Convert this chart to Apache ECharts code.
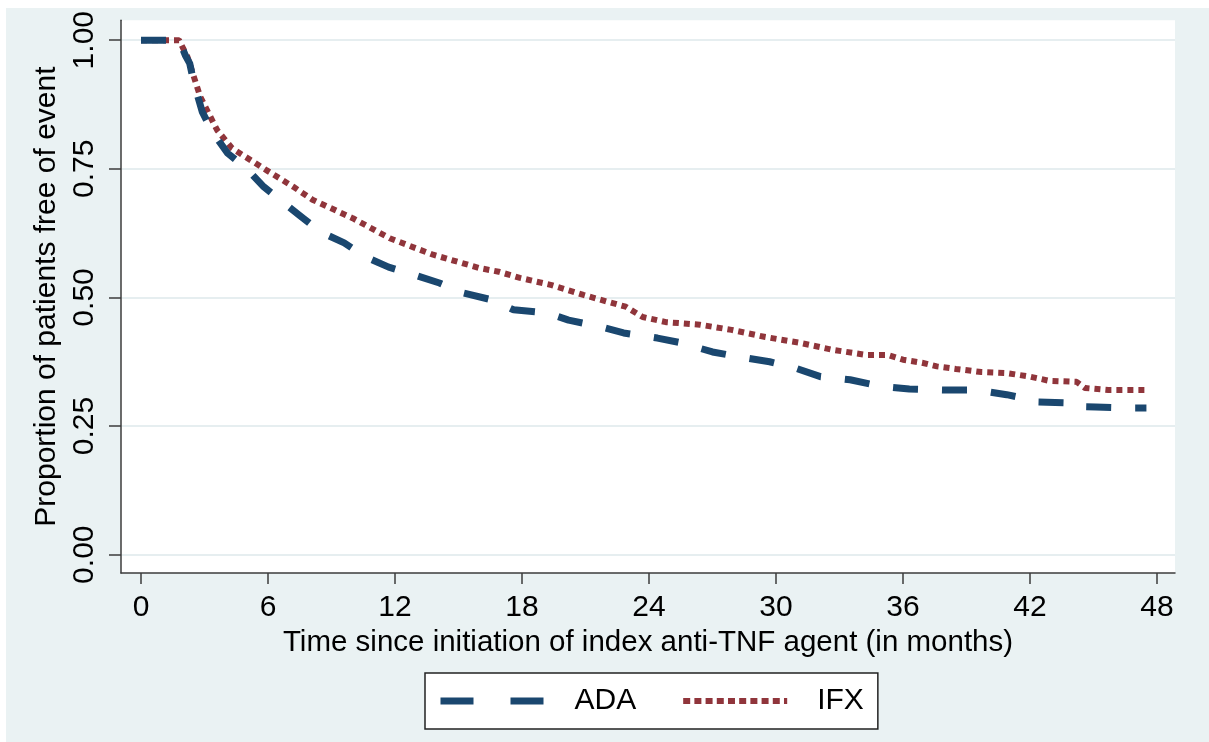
<!DOCTYPE html>
<html>
<head>
<meta charset="utf-8">
<script src="https://cdn.jsdelivr.net/npm/echarts@6/dist/echarts.min.js"></script>
<style>
  html, body { margin: 0; padding: 0; background: #fff; }
  #chart { position: absolute; left: 6px; top: 8px; width: 1203px; height: 734px; }
</style>
</head>
<body>
<div id="chart"></div>
<script>
// KM curves (months, proportion free of event)
var adaTime = [0, 1.8, 2.1, 2.3, 2.5, 2.9, 3.4, 4.1, 5.0, 5.8, 6.7, 7.6, 8.5, 9.6, 10.6, 11.7, 12.9, 14.1, 15.2, 16.6,
  17.6, 19.2, 20.2, 21.7, 22.8, 24.4, 25.5, 27.0, 28.2, 29.7, 30.9, 32.1, 33.5, 35.0, 36.3, 37.9, 39.5, 40.9, 41.6,
  42.1, 43.8, 44.0, 45.1, 46.8, 47.5];
var adaSurv = [1.0, 1.0, 0.97, 0.955, 0.917, 0.86, 0.82, 0.78, 0.75, 0.715, 0.685, 0.656, 0.627, 0.606, 0.579, 0.559,
  0.544, 0.528, 0.509, 0.495, 0.476, 0.47, 0.456, 0.443, 0.431, 0.421, 0.412, 0.394, 0.385, 0.375, 0.363, 0.346,
  0.34, 0.327, 0.322, 0.32, 0.32, 0.311, 0.305, 0.297, 0.295, 0.288, 0.287, 0.285, 0.285];

var ifxTime = [0, 1.8, 2.2, 2.8, 3.6, 4.3, 5.9, 7.2, 8.1, 10.0, 11.75, 13.8, 16.0, 16.9, 17.9, 19.4, 20.9, 22.1, 22.9,
  23.7, 24.8, 26.4, 27.9, 29.5, 31.1, 32.7, 34.3, 35.3, 36.0, 36.9, 37.6, 38.5, 39.7, 40.9, 42.0, 42.9, 44.2, 44.6,
  45.7, 47.5];
var ifxSurv = [1.0, 1.0, 0.967, 0.89, 0.825, 0.79, 0.748, 0.715, 0.69, 0.654, 0.615, 0.583, 0.557, 0.55, 0.538, 0.524,
  0.505, 0.491, 0.482, 0.462, 0.452, 0.447, 0.437, 0.423, 0.412, 0.398, 0.388, 0.388, 0.379, 0.373, 0.366, 0.361,
  0.355, 0.353, 0.346, 0.338, 0.336, 0.324, 0.32, 0.32];

var xTicks = [0, 6, 12, 18, 24, 30, 36, 42, 48];
var yTicks = [0, 0.25, 0.5, 0.75, 1.0];

function pairs(t, s) {
  return t.map(function (v, i) { return [v, s[i]]; });
}

var axisColor = '#3c3c3c';
var font = 'Liberation Sans, Arial, sans-serif';
var noSymbol = { color: 'rgba(0,0,0,0)', borderColor: 'rgba(0,0,0,0)', borderWidth: 0 };

var chart = echarts.init(document.getElementById('chart'));
var option = {
  animation: false,
  backgroundColor: '#eaf2f3',
  grid: {
    left: 115, top: 12, right: 34, bottom: 169,
    show: true, backgroundColor: '#fff', borderWidth: 0
  },
  xAxis: {
    type: 'value',
    min: -0.945, max: 48.85,
    name: 'Time since initiation of index anti-TNF agent (in months)',
    nameLocation: 'middle',
    nameGap: 48,
    nameTextStyle: { fontFamily: font, fontSize: 29.5, color: '#000' },
    axisLine: { onZero: false, lineStyle: { color: axisColor, width: 1.5 } },
    axisTick: { customValues: xTicks, length: 11, lineStyle: { color: axisColor, width: 1.5 } },
    axisLabel: {
      customValues: xTicks, margin: 20,
      fontFamily: font, fontSize: 30, color: '#000'
    },
    splitLine: { show: false }
  },
  yAxis: {
    type: 'value',
    min: -0.0356, max: 1.0389,
    name: 'Proportion of patients free of event',
    nameLocation: 'middle',
    nameGap: 55,
    nameTextStyle: { fontFamily: font, fontSize: 30, color: '#000' },
    axisLine: { show: true, onZero: false, lineStyle: { color: axisColor, width: 1.5 } },
    axisTick: { show: true, customValues: yTicks, length: 12, lineStyle: { color: axisColor, width: 1.5 } },
    axisLabel: {
      customValues: yTicks, rotate: 90, margin: 21,
      fontFamily: font, fontSize: 30, color: '#000',
      formatter: function (v) { return v.toFixed(2); }
    },
    splitLine: { show: true, lineStyle: { color: '#e6eef0', width: 2 } }
  },
  legend: {
    left: 419, top: 665,
    orient: 'horizontal',
    backgroundColor: '#fff',
    borderColor: '#222',
    borderWidth: 1.5,
    borderRadius: 0,
    padding: [13, 14, 13, 12],
    itemWidth: 104,
    itemHeight: 30,
    itemGap: 44,
    textStyle: { fontFamily: font, fontSize: 30, color: '#000', padding: [0, 0, 0, 25] },
    data: [
      { name: 'ADA', itemStyle: noSymbol, lineStyle: { type: [33, 37], width: 7 } },
      { name: 'IFX', itemStyle: noSymbol, lineStyle: { type: [7, 4.2], width: 6 } }
    ]
  },
  series: [
    {
      name: 'ADA',
      type: 'line',
      data: pairs(adaTime, adaSurv),
      symbol: 'none',
      z: 3,
      color: '#1a476f',
      lineStyle: { color: '#1a476f', width: 7, type: [25, 24], cap: 'butt' }
    },
    {
      name: 'IFX',
      type: 'line',
      data: pairs(ifxTime, ifxSurv),
      symbol: 'none',
      z: 2,
      color: '#90353b',
      lineStyle: { color: '#90353b', width: 6, type: [6, 5], cap: 'butt' }
    }
  ]
};
chart.setOption(option);
</script>
</body>
</html>
